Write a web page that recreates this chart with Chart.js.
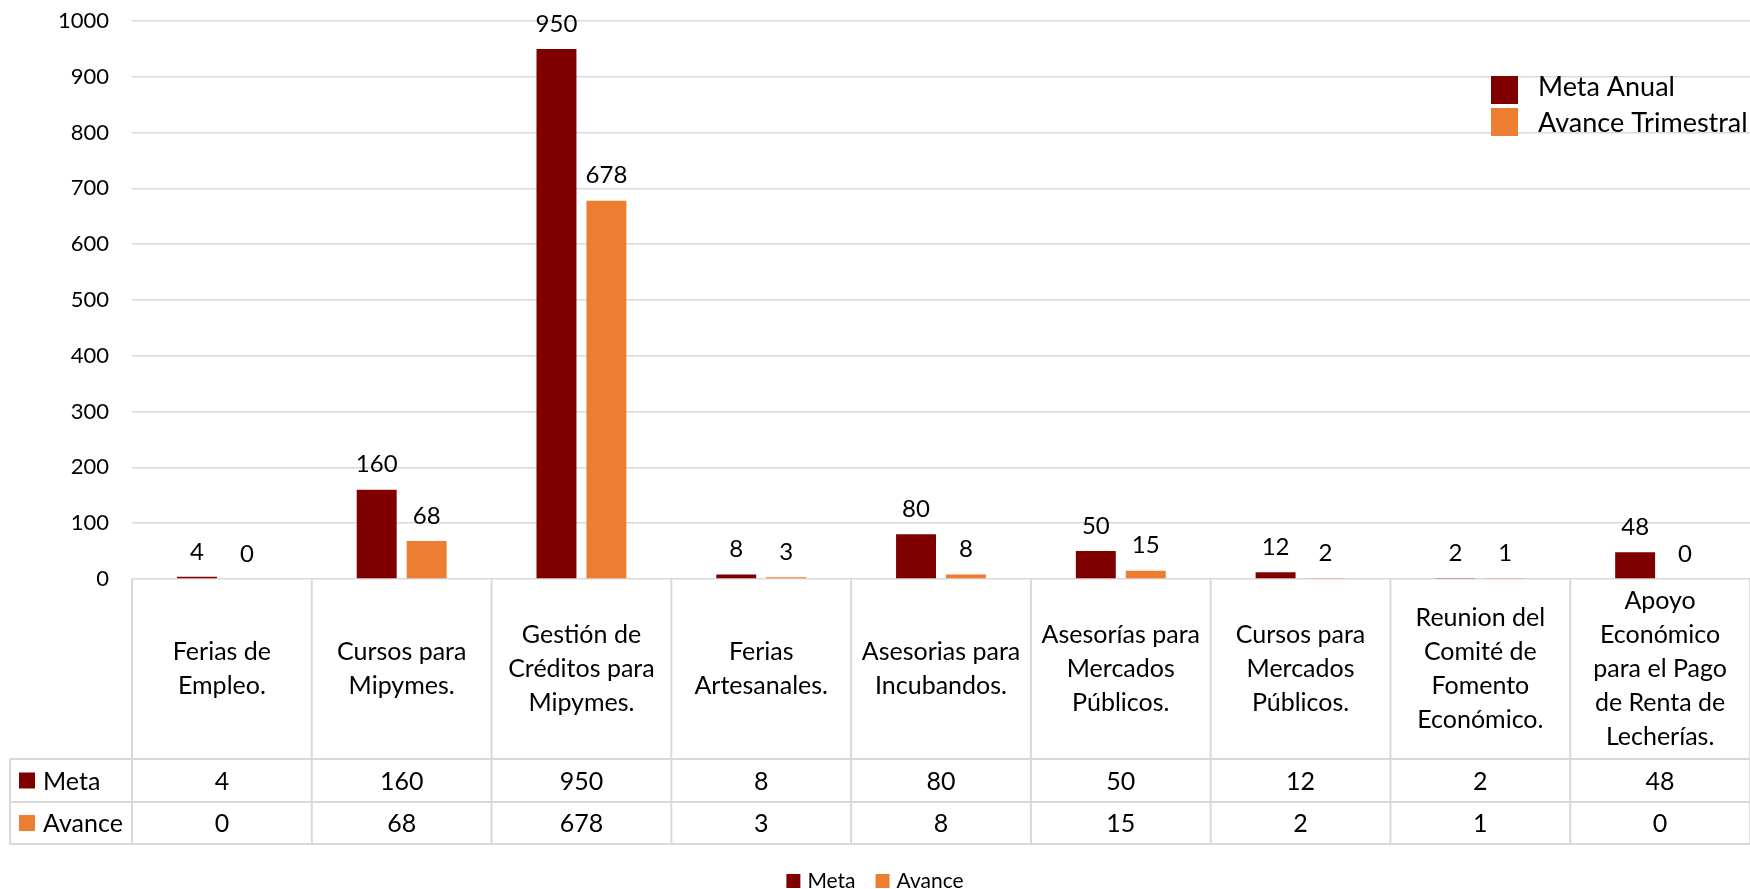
<!DOCTYPE html>
<html>
<head>
<meta charset="utf-8">
<script src="https://cdn.jsdelivr.net/npm/chart.js@4"></script>
<style>
  html, body { margin: 0; padding: 0; background: #ffffff; }
  #wrap { width: 1750px; height: 889px; position: relative; }
</style>
</head>
<body>
<div id="wrap"><canvas id="c" width="1750" height="889"></canvas></div>
<script>
// ---- data ----
const categories = [
  ["Ferias de", "Empleo."],
  ["Cursos para", "Mipymes."],
  ["Gestión de", "Créditos para", "Mipymes."],
  ["Ferias", "Artesanales."],
  ["Asesorias para", "Incubandos."],
  ["Asesorías para", "Mercados", "Públicos."],
  ["Cursos para", "Mercados", "Públicos."],
  ["Reunion del", "Comité de", "Fomento", "Económico."],
  ["Apoyo", "Económico", "para el Pago", "de Renta de", "Lecherías."]
];
const metaValues = [4, 160, 950, 8, 80, 50, 12, 2, 48];
const avanceValues = [0, 68, 678, 3, 8, 15, 2, 1, 0];
const seriesNames = ["Meta", "Avance"];
const topLegendNames = ["Meta Anual", "Avance Trimestral"];
const seriesColors = ["#800000", "#ED7D31"];
const yMin = 0, yMax = 1000, yStep = 100;

const FONT = "Lato, 'Liberation Sans', sans-serif";
const TEXT = "#000000";
const LINE = "#d9d9d9";

const tablePlugin = {
  id: 'tableAndLabels',
  afterDatasetsDraw(chart) {
    const ctx = chart.ctx;
    const xs = chart.scales.x;
    const area = chart.chartArea;
    const n = categories.length;
    const catW = (area.right - area.left) / n;
    const headerBottom = 759, row1Bottom = 802, row2Bottom = 844, tableLeft = 10;

    ctx.save();
    // data labels above bars
    ctx.font = "24px " + FONT;
    ctx.fillStyle = TEXT;
    ctx.textAlign = 'center';
    ctx.textBaseline = 'middle';
    chart.data.datasets.forEach((ds, di) => {
      const meta = chart.getDatasetMeta(di);
      meta.data.forEach((bar, i) => {
        ctx.fillText(String(ds.data[i]), bar.x, bar.y - 25);
      });
    });

    // table lines
    ctx.strokeStyle = LINE;
    ctx.lineWidth = 2;
    ctx.beginPath();
    [headerBottom, row1Bottom, row2Bottom].forEach(y => {
      ctx.moveTo(tableLeft, y); ctx.lineTo(area.right, y);
    });
    for (let i = 0; i <= n; i++) {
      const x = area.left + i * catW;
      ctx.moveTo(x, area.bottom); ctx.lineTo(x, row2Bottom);
    }
    ctx.moveTo(tableLeft, headerBottom); ctx.lineTo(tableLeft, row2Bottom);
    ctx.stroke();

    // category labels
    ctx.font = "25px " + FONT;
    ctx.fillStyle = TEXT;
    const lh = 34;
    const midY = (area.bottom + headerBottom) / 2;
    categories.forEach((lines, i) => {
      const cx = xs.getPixelForValue(i);
      const y0 = midY - (lines.length - 1) * lh / 2;
      lines.forEach((t, k) => ctx.fillText(t, cx, y0 + k * lh));
    });

    // row values
    const rows = [metaValues, avanceValues];
    const rowMid = [(headerBottom + row1Bottom) / 2, (row1Bottom + row2Bottom) / 2];
    rows.forEach((vals, r) => {
      vals.forEach((v, i) => {
        ctx.fillText(String(v), xs.getPixelForValue(i), rowMid[r] + 1);
      });
      // row key
      ctx.fillStyle = seriesColors[r];
      ctx.fillRect(19, rowMid[r] - 8, 16, 16);
      ctx.fillStyle = TEXT;
      ctx.textAlign = 'left';
      ctx.fillText(seriesNames[r], 43, rowMid[r] + 1);
      ctx.textAlign = 'center';
    });

    // top-right legend
    ctx.font = "27px " + FONT;
    ctx.textAlign = 'left';
    const boxY = [76, 108];
    const textY = [87, 123];
    topLegendNames.forEach((name, k) => {
      ctx.fillStyle = seriesColors[k];
      ctx.fillRect(1491, boxY[k], 27, 28);
      ctx.fillStyle = TEXT;
      ctx.fillText(name, 1538, textY[k]);
    });

    // bottom legend
    ctx.font = "21px " + FONT;
    const box = 14, gapBT = 7, gapItems = 20;
    const widths = seriesNames.map(s => ctx.measureText(s).width);
    const total = widths.reduce((a, w) => a + box + gapBT + w, 0) + gapItems * (seriesNames.length - 1);
    let x = chart.width / 2 - total / 2;
    const ly = 881;
    seriesNames.forEach((s, k) => {
      ctx.fillStyle = seriesColors[k];
      ctx.fillRect(x, ly - box / 2, box, box);
      ctx.fillStyle = TEXT;
      ctx.fillText(s, x + box + gapBT, ly);
      x += box + gapBT + widths[k] + gapItems;
    });
    ctx.restore();
  }
};

new Chart(document.getElementById('c'), {
  type: 'bar',
  data: {
    labels: categories,
    datasets: [
      { label: seriesNames[0], data: metaValues, backgroundColor: seriesColors[0],
        categoryPercentage: 0.5556, barPercentage: 0.8 },
      { label: seriesNames[1], data: avanceValues, backgroundColor: seriesColors[1],
        categoryPercentage: 0.5556, barPercentage: 0.8 }
    ]
  },
  options: {
    responsive: false,
    animation: false,
    layout: { padding: { top: 21, right: 0, bottom: 310, left: 0 } },
    plugins: { legend: { display: false }, tooltip: { enabled: false } },
    scales: {
      x: { display: false },
      y: {
        min: yMin, max: yMax,
        border: { display: false },
        grid: { color: LINE, lineWidth: 1.5, drawTicks: false },
        ticks: { stepSize: yStep, padding: 23, color: TEXT, font: { family: FONT, size: 22 },
                 callback: (v) => String(v) },
        afterFit(scale) { scale.width = 132; scale.paddingTop = 0; scale.paddingBottom = 0; }
      }
    }
  },
  plugins: [tablePlugin]
});
</script>
</body>
</html>
